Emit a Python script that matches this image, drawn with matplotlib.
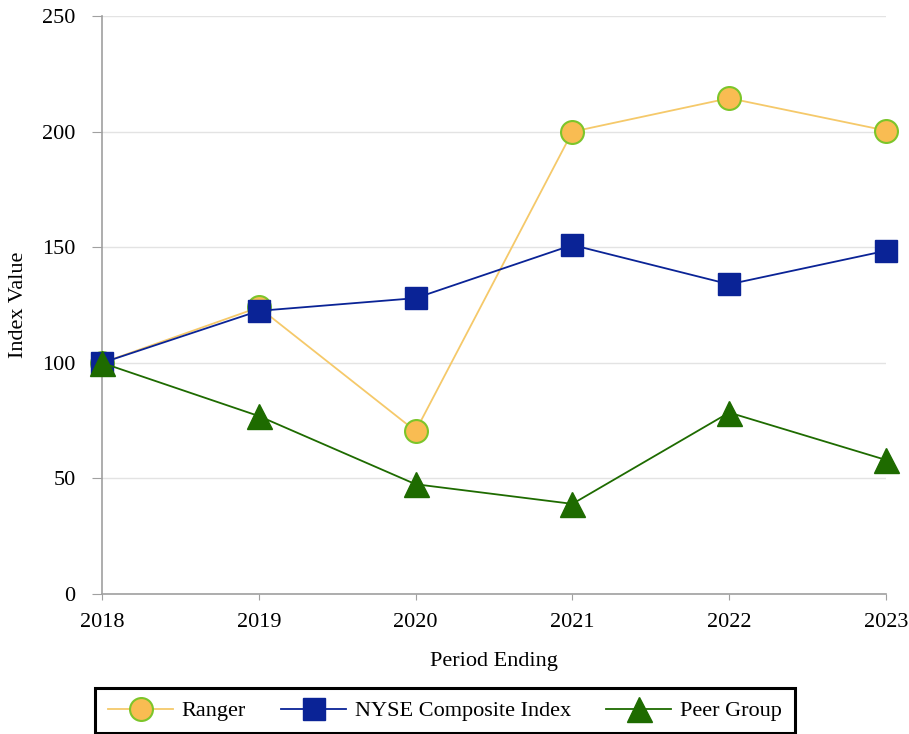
import numpy as np
import matplotlib.pyplot as plt
from matplotlib.patches import Rectangle

years = ["2018", "2019", "2020", "2021", "2022", "2023"]
ranger = [100, 124, 70.5, 200, 214.5, 200.5]
nyse = [100, 122.5, 128, 151, 134, 148.5]
peer = [100, 77, 47.5, 39, 78.5, 58]

plt.rcParams['font.family'] = ['Liberation Serif', 'DejaVu Serif']

fig = plt.figure(figsize=(9.09, 7.34), dpi=100)
ax = fig.add_axes([0.1122, 0.1907, 0.8625, 0.7873])

x = np.arange(len(years))
ax.plot(x, ranger, color="#F5C96A", lw=1.3, marker="o", ms=16.5,
        mfc="#F9BC52", mec="#7CC52A", mew=1.5, label="Ranger", zorder=3,
        clip_on=False)
ax.plot(x, nyse, color="#0A2396", lw=1.3, marker="s", ms=15.5,
        mfc="#0A2396", mec="#0A2396", label="NYSE Composite Index", zorder=4,
        clip_on=False)
ax.plot(x, peer, color="#1E6B00", lw=1.3, marker="^", ms=18,
        mfc="#1E6B00", mec="#1E6B00", label="Peer Group", zorder=5,
        clip_on=False)

ax.set_xlim(0, len(years) - 1)
ax.set_ylim(0, 250)
ax.set_xticks(x)
ax.set_xticklabels(years)
ax.set_yticks(np.arange(0, 251, 50))
ax.grid(axis="y", color="#E3E3E3", lw=1)
ax.set_axisbelow(True)
for s in ["top", "right"]:
    ax.spines[s].set_visible(False)
for s in ["left", "bottom"]:
    ax.spines[s].set_color("#A0A0A0")
    ax.spines[s].set_linewidth(1.2)
ax.tick_params(axis="y", length=7, color="#A0A0A0", labelsize=16, pad=12)
ax.tick_params(axis="x", length=4, color="#A0A0A0", labelsize=16, pad=10)

ax.set_xlabel("Period Ending", fontsize=16, labelpad=14)
ax.set_ylabel("Index Value", fontsize=16, labelpad=10)

# legend box drawn separately so it spans like the original
fig.patches.append(Rectangle((95 / 909, 1 - 733 / 734), 700 / 909, 45 / 734,
                             transform=fig.transFigure, fill=False,
                             edgecolor="black", lw=2.2))
leg = fig.legend(loc="center", bbox_to_anchor=(445 / 909, 1 - 711 / 734), ncol=3,
                 frameon=False, fontsize=16, handlelength=2.9,
                 handletextpad=0.4, columnspacing=1.6, markerscale=1.0)

fig.savefig("out.png", dpi=100)
